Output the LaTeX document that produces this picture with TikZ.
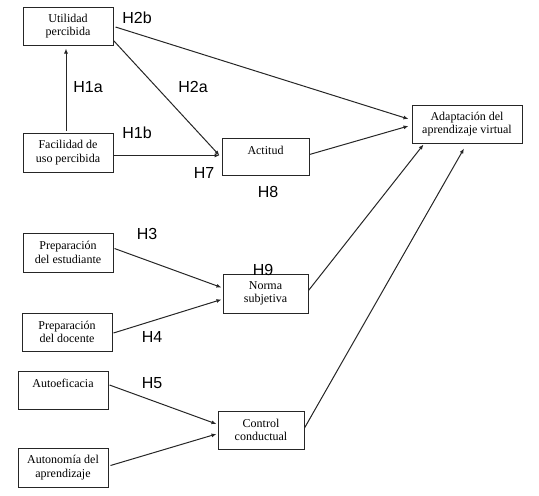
\documentclass[tikz,border=0pt]{standalone}
\usepackage{fontspec}
\setmainfont{Liberation Serif}
\newfontfamily\hfont{Liberation Sans}
\usetikzlibrary{calc,arrows.meta}
\begin{document}
\begin{tikzpicture}[x=1pt,y=-1pt,
  box/.style={draw=black!85,line width=1pt,inner sep=0pt,align=center,font=\fontsize{12}{13.5}\selectfont},
  txt/.style={inner sep=0pt,align=center,font=\fontsize{12}{13.5}\selectfont},
  arr/.style={draw=black!85,line width=1pt,-{Latex[length=5pt,width=4pt]}},
  hyp/.style={inner sep=0pt,font=\hfont\fontsize{16}{18}\selectfont}]
\useasboundingbox (0,0) rectangle (539,496);
% boxes
\node[box,minimum width=90pt,minimum height=38pt] (up) at (68,26) {Utilidad\\percibida};
\node[box,minimum width=90pt,minimum height=39pt] (fac) at (68,152.5) {Facilidad de\\uso percibida};
\node[box,minimum width=87pt,minimum height=37pt] (act) at (265.5,156.5) {};
\node[txt] (actt) at (265.5,150) {Actitud};
\node[box,minimum width=110pt,minimum height=38pt] (ada) at (467,124) {Adaptación del\\aprendizaje virtual};
\node[box,minimum width=90pt,minimum height=39pt] (pe) at (68,252.5) {Preparación\\del estudiante};
\node[box,minimum width=85pt,minimum height=39pt] (ns) at (265.5,293.5) {Norma\\subjetiva};
\node[box,minimum width=90pt,minimum height=38pt] (pd) at (67,332) {Preparación\\del docente};
\node[box,minimum width=90pt,minimum height=38pt] (ae) at (63,390) {};
\node[txt] (aet) at (63,383) {Autoeficacia};
\node[box,minimum width=86pt,minimum height=38pt] (cc) at (261,430) {Control\\conductual};
\node[box,minimum width=90pt,minimum height=39pt] (aa) at (63,467.5) {Autonomía del\\aprendizaje};
% connectors
\draw[arr] ($(fac.north)+(-2,-2)$) -- ($(up.south)+(-2,3)$);
\draw[arr] ($(up.south east)+(0,-5)$) -- ($(act.west)+(-2,-1)$);
\draw[arr] ($(fac.east)+(0,3)$) -- ($(act.west)+(-2,-1)$);
\draw[arr] ($(up.east)+(2,1)$) -- ($(ada.west)+(-3,-5)$);
\draw[arr] ($(act.east)+(0,-2)$) -- ($(ada.west)+(-3,2)$);
\draw[arr] ($(ns.east)+(0,-3)$) -- ($(ada.south west)+(12,1)$);
\draw[arr] ($(cc.east)+(0,-2)$) -- ($(ada.south)+(-3,5)$);
\draw[arr] ($(pe.east)+(1,-4)$) -- ($(ns.west)+(-1,-6)$);
\draw[arr] ($(pd.east)+(1,1)$) -- ($(ns.west)+(-1,6)$);
\draw[arr] ($(ae.east)+(1,-5)$) -- ($(cc.west)+(-1,-6)$);
\draw[arr] ($(aa.east)+(2,-2)$) -- ($(cc.west)+(-1,4)$);
% hypothesis labels
\node[hyp] (h2b) at (137,18) {H2b};
\node[hyp] (h1a) at (88,87) {H1a};
\node[hyp] (h2a) at (193,87) {H2a};
\node[hyp] (h1b) at (137,133) {H1b};
\node[hyp] (h7) at (204,173) {H7};
\node[hyp] (h8) at (268,192) {H8};
\node[hyp] (h3) at (147,234) {H3};
\node[hyp] (h9) at (263,270) {H9};
\node[hyp] (h4) at (152,337) {H4};
\node[hyp] (h5) at (152,383) {H5};
\end{tikzpicture}
\end{document}
